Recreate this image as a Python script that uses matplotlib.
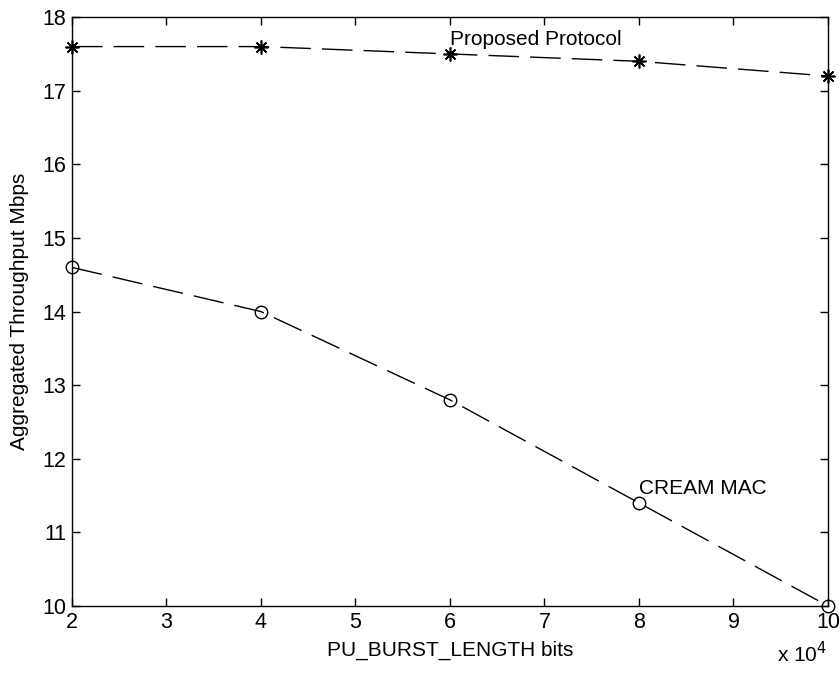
import matplotlib.pyplot as plt

plt.rcParams['font.family'] = ['Liberation Sans', 'DejaVu Sans']

burst_len = [20000, 40000, 60000, 80000, 100000]
proposed = [17.6, 17.6, 17.5, 17.4, 17.2]
cream_mac = [14.6, 14.0, 12.8, 11.4, 10.0]

fig = plt.figure(figsize=(8.4, 6.8), dpi=100)
ax = fig.add_axes([0.0857, 0.1088, 0.9, 0.866])

# asterisk marker like matlab's '*'
ax.plot(burst_len, proposed, color='k', lw=1.0, ls=(0, (22, 8)),
        marker=(8, 2, 0), ms=10, mew=1.2, clip_on=False)
ax.plot(burst_len, cream_mac, color='k', lw=1.0, ls=(0, (22, 8)),
        marker='o', ms=9, mfc='none', mew=1.0, clip_on=False)

ax.text(60000, 17.7, 'Proposed Protocol', fontsize=15, va='center')
ax.text(80000, 11.6, 'CREAM MAC', fontsize=15, va='center')

ax.set_xlim(20000, 100000)
ax.set_ylim(10, 18)
ax.set_xticks(range(20000, 100001, 10000))
ax.set_xticklabels([str(v // 10000) for v in range(20000, 100001, 10000)])
ax.set_yticks(range(10, 19))

ax.tick_params(direction='in', length=6, width=1, labelsize=15.5,
               top=True, right=True, pad=4)
for s in ax.spines.values():
    s.set_linewidth(1.0)

ax.set_xlabel('PU_BURST_LENGTH bits', fontsize=15, labelpad=6)
ax.set_ylabel('Aggregated Throughput Mbps', fontsize=15, labelpad=10)
fig.text(0.985, 0.02, r'x 10$^4$', fontsize=15, ha='right', va='bottom')

fig.savefig('out.png', dpi=100)
